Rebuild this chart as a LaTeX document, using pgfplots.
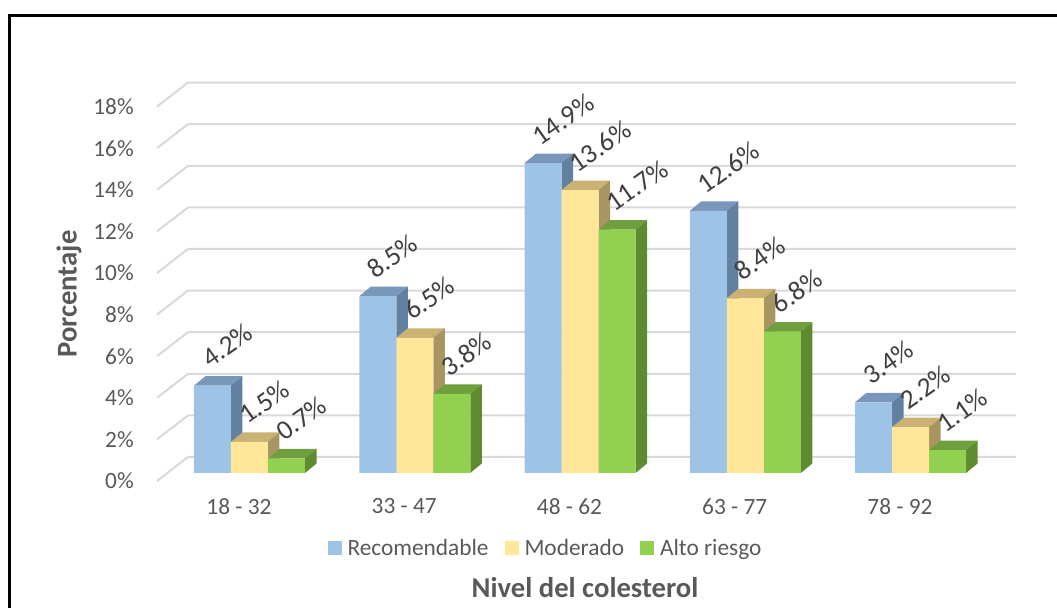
\documentclass[border=0pt]{standalone}
\usepackage{pgfplots}
\pgfplotsset{compat=1.18}
\usepackage{pgfplotstable}
\usepackage{fontspec}
\setmainfont{Carlito}

% front, top and side shades of the three series
\definecolor{azulF}{HTML}{9DC3E6}
\definecolor{azulT}{HTML}{7897BA}
\definecolor{azulS}{HTML}{62809F}
\definecolor{amaF}{HTML}{FFE699}
\definecolor{amaT}{HTML}{C9B274}
\definecolor{amaS}{HTML}{A79562}
\definecolor{verF}{HTML}{92D050}
\definecolor{verT}{HTML}{6FA03D}
\definecolor{verS}{HTML}{5E8A30}
\definecolor{rejilla}{HTML}{D9D9D9}
\definecolor{texto}{HTML}{595959}
\definecolor{etiqueta}{HTML}{404040}

% percentage of each cholesterol level per age group
\pgfplotstableread{
g rec mod alto
0 4.2 1.5 0.7
1 8.5 6.5 3.8
2 14.9 13.6 11.7
3 12.6 8.4 6.8
4 3.4 2.2 1.1
}\colesterol

\def\bw{0.2239}   % bar width (axis units)
\def\depx{0.0696} % depth of a bar, x direction
\def\depy{0.4567} % depth of a bar, y direction

% top and side faces of the bars of one series
% #1 column, #2 offset inside the group, #3 top colour, #4 side colour
\newcommand\caras[4]{%
  \pgfplotsinvokeforeach{0,...,4}{%
    \pgfplotstablegetelem{##1}{#1}\of\colesterol
    \pgfmathsetmacro\barv{\pgfplotsretval}%
    \pgfmathsetmacro\bart{\barv+\depy}%
    \pgfmathsetmacro\xa{##1+#2-\bw/2}%
    \pgfmathsetmacro\xb{\xa+\depx}%
    \pgfmathsetmacro\xc{##1+#2+\bw/2}%
    \pgfmathsetmacro\xd{\xc+\depx}%
    \edef\cara{%
      \noexpand\addplot[fill=#3,draw=none,forget plot] coordinates {(\xa,\barv) (\xb,\bart) (\xd,\bart) (\xc,\barv)} -- cycle;
      \noexpand\addplot[fill=#4,draw=none,forget plot] coordinates {(\xc,0) (\xc,\barv) (\xd,\bart) (\xd,\depy)} -- cycle;
    }%
    \cara
  }%
}

\pgfplotsset{
  sq legend/.style={legend image code/.code={\fill[##1] (0pt,-5.25pt) rectangle (10.5pt,5.25pt);}},
  etiquetas/.style={
    nodes near coords={\pgfmathprintnumber[fixed,fixed zerofill,precision=1]{\pgfplotspointmeta}\%},
    every node near coord/.append style={xshift=-2pt, yshift=12.5pt, rotate=35,
      anchor=base west, inner sep=0pt, text=etiqueta, font=\fontsize{20.5}{24}\selectfont},
  },
}

\begin{document}
\begin{tikzpicture}[font=\fontsize{17.5}{21}\selectfont]
\begin{axis}[
  x=123.94pt, y=15.6pt,
  xmin=-0.6, xmax=4.75, ymin=0, ymax=19.5,
  clip=false,
  axis line style={draw=none},
  major tick length=0pt,
  xtick={0,...,4},
  xticklabels={18 - 32, 33 - 47, 48 - 62, 63 - 77, 78 - 92},
  ytick={0,2,...,18},
  yticklabel={\pgfmathprintnumber{\tick}\%},
  /pgf/number format/assume math mode=true,
  xticklabel style={anchor=center, inner sep=0pt, xshift=-7.9pt, yshift=-25.1pt},
  yticklabel style={anchor=east, inner sep=0pt, xshift=-12.26pt, yshift=-6pt},
  tick label style={text=texto, font=\fontsize{17.5}{21}\selectfont},
  xlabel={Nivel del colesterol},
  ylabel={Porcentaje},
  xlabel style={at={(axis description cs:0.4917,-0.28354)}, anchor=center,
    text=texto, font=\bfseries\fontsize{21.5}{25}\selectfont},
  ylabel style={at={(axis description cs:-0.09202,0.44133)}, anchor=center,
    text=texto, font=\bfseries\fontsize{21.5}{25}\selectfont},
  legend columns=-1,
  legend style={at={(axis description cs:0.4458,-0.18492)}, anchor=center,
    draw=none, fill=none, text=texto, font=\fontsize{17.5}{21}\selectfont,
    inner sep=0pt, nodes={inner sep=0pt},
    /tikz/every odd column/.append style={column sep=4.5pt},
    /tikz/every even column/.append style={column sep=12pt}},
]
% chart frame and page size
\draw[line width=2.25pt, black] (axis cs:-1.4523,-7) -- (axis cs:-1.4523,21.971) -- (axis cs:5,21.971);
\coordinate (bbsw) at (axis cs:-1.5098,-6.4904);
\coordinate (bbne) at (axis cs:4.8865,22.740);

% gridlines on the back wall with the left side wall edge
\pgfplotsinvokeforeach{0,2,...,18}{
  \draw[rejilla, line width=1.5pt] (axis cs:-0.5598,#1-0.3846) -- (axis cs:-0.3722,#1+0.769) -- (axis cs:4.6384,#1+0.769);
}

% depth of the bars
\caras{rec}{-0.2239}{azulT}{azulS}
\caras{mod}{0}{amaT}{amaS}
\caras{alto}{0.2239}{verT}{verS}

% front faces
\addplot[ybar, bar width=\bw, bar shift=0pt, fill=azulF, draw=none, sq legend, etiquetas]
  table[x expr=\thisrow{g}-0.2239, y=rec] {\colesterol};
\addplot[ybar, bar width=\bw, bar shift=0pt, fill=amaF, draw=none, sq legend, etiquetas]
  table[x=g, y=mod] {\colesterol};
\addplot[ybar, bar width=\bw, bar shift=0pt, fill=verF, draw=none, sq legend, etiquetas]
  table[x expr=\thisrow{g}+0.2239, y=alto] {\colesterol};
\legend{Recomendable, Moderado, Alto riesgo}
\end{axis}
\pgfresetboundingbox
\useasboundingbox (bbsw) rectangle (bbne);
\end{tikzpicture}
\end{document}
